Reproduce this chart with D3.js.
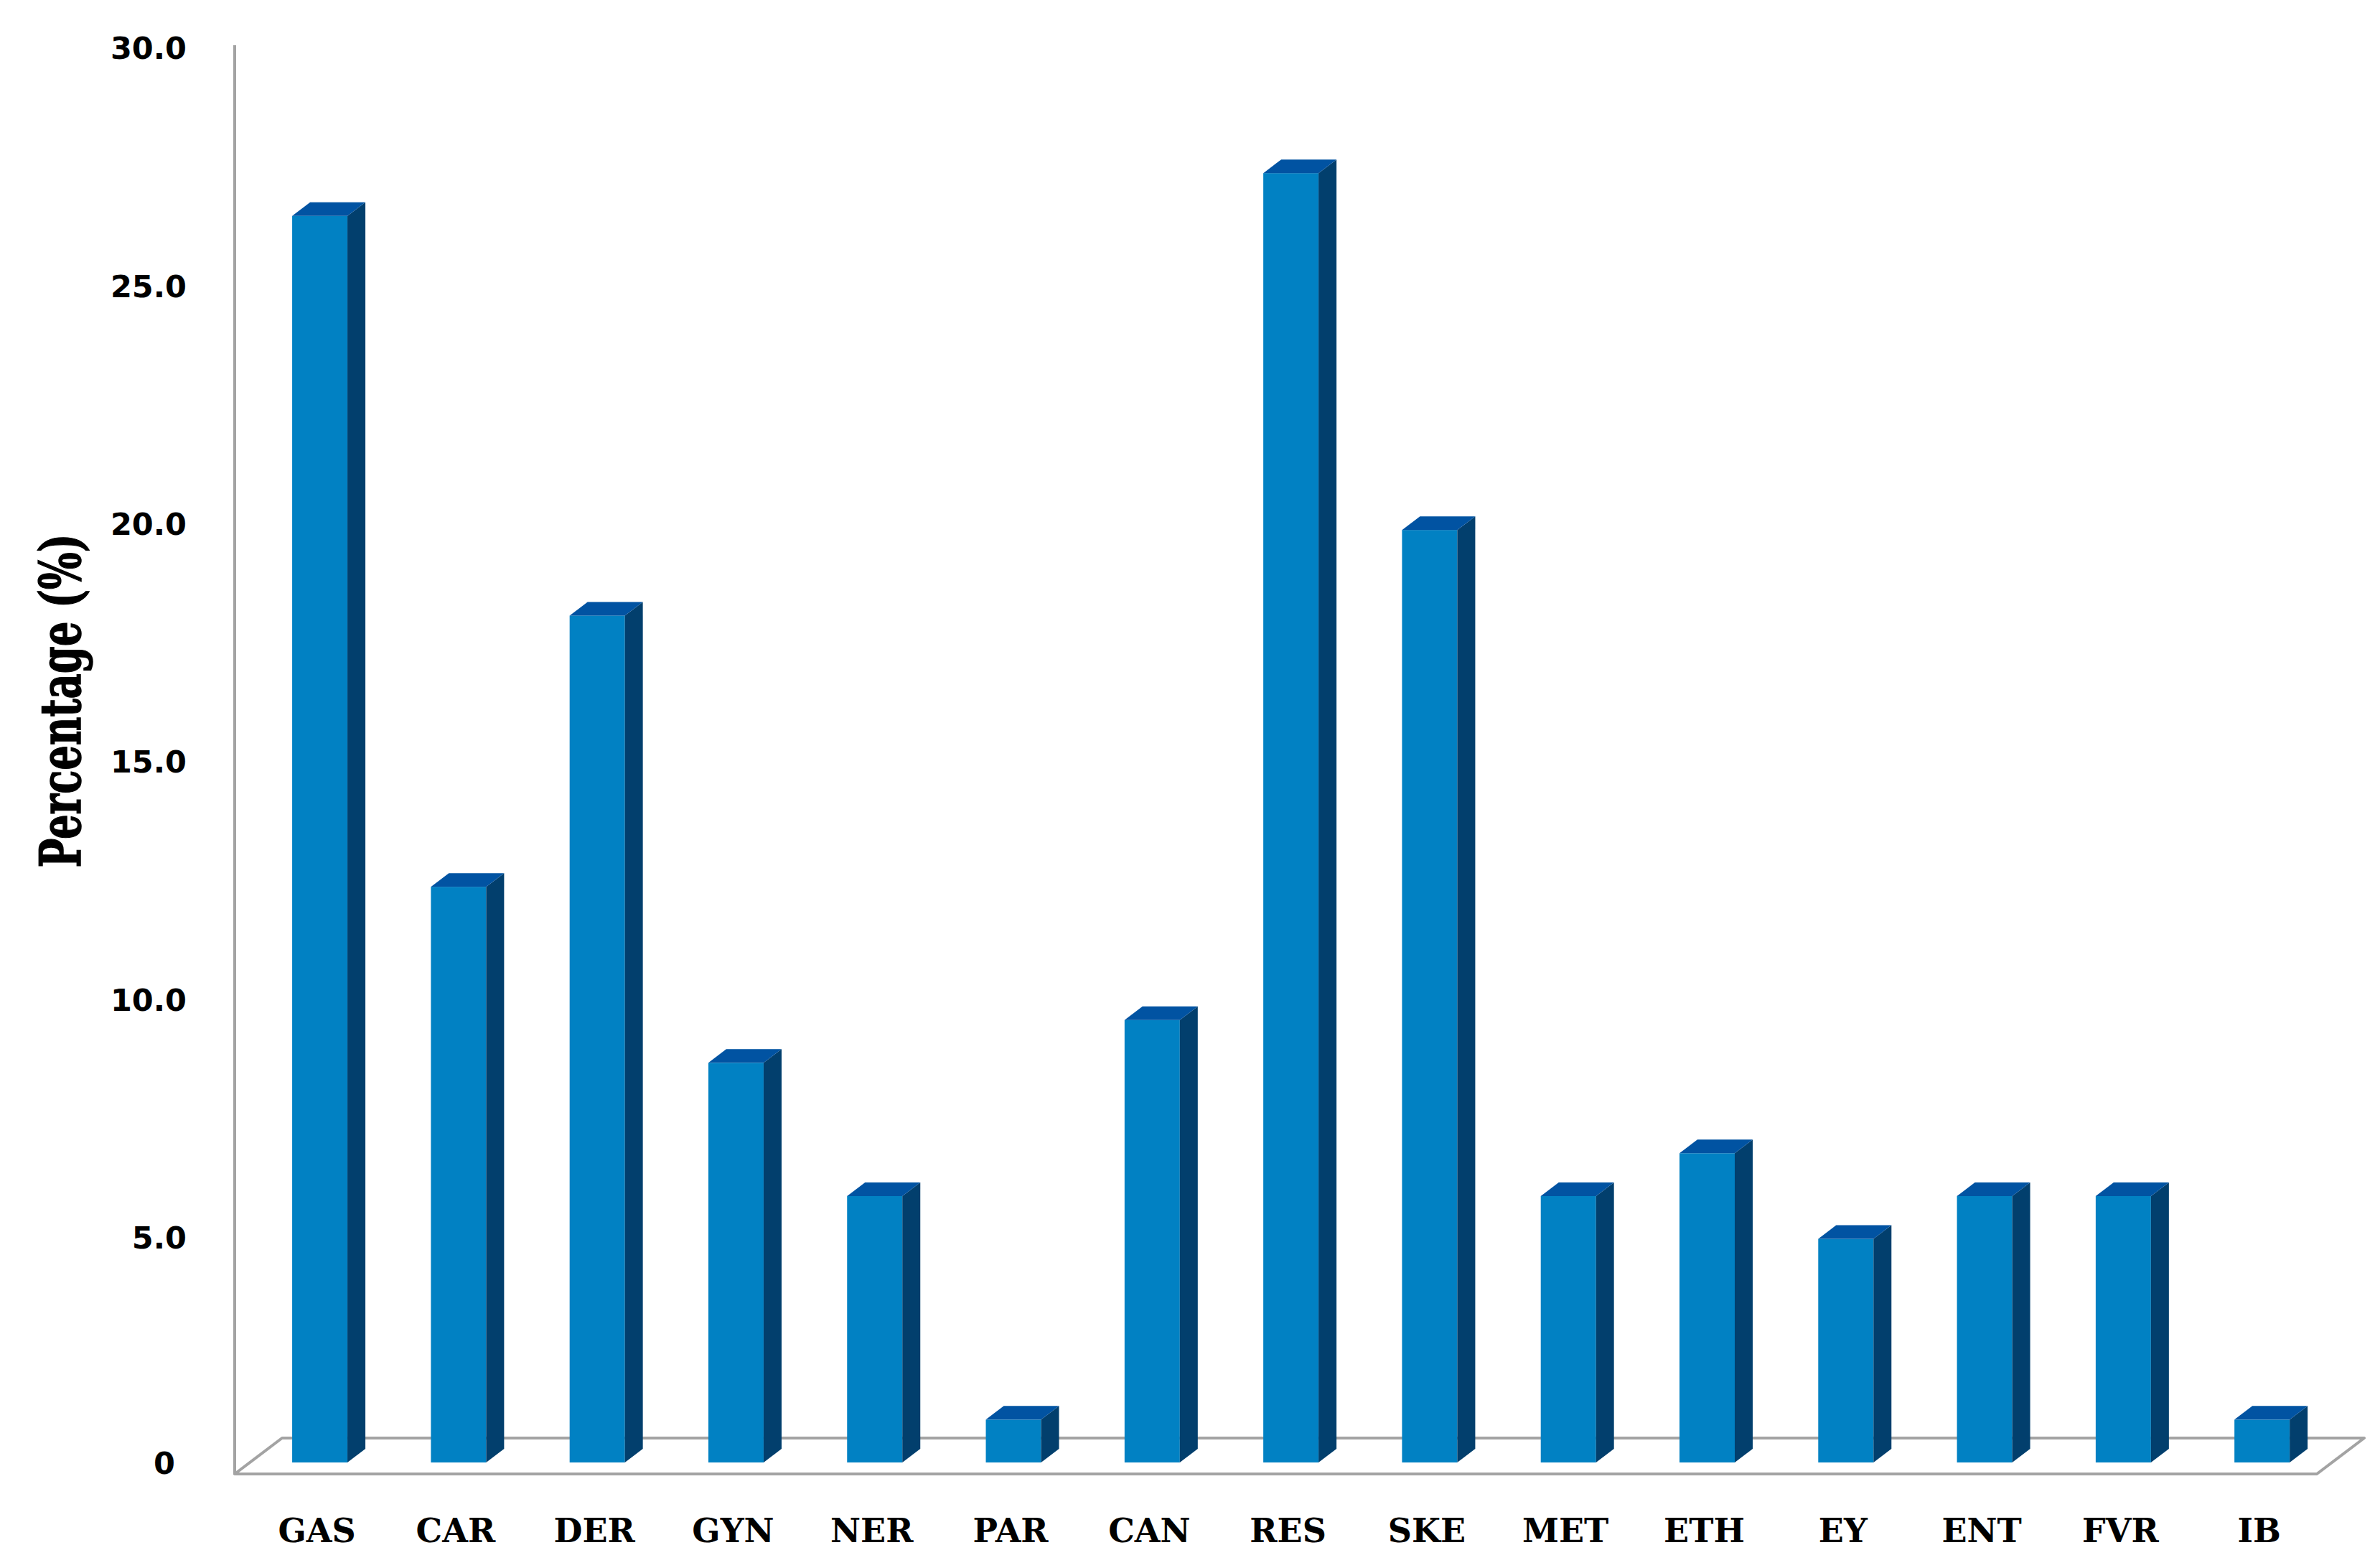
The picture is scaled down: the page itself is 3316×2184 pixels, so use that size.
<!DOCTYPE html>
<html>
<head>
<meta charset="utf-8">
<script src="https://cdn.jsdelivr.net/npm/d3@7"></script>
<style>
  html, body { margin: 0; padding: 0; background: #ffffff; }
  svg { display: block; }
</style>
</head>
<body>
<div id="chart"></div>
<script>
// ---- data ----
const categories = ["GAS", "CAR", "DER", "GYN", "NER", "PAR", "CAN", "RES", "SKE", "MET", "ETH", "EY", "ENT", "FVR", "IB"];
const percentages = [26.2, 12.1, 17.8, 8.4, 5.6, 0.9, 9.3, 27.1, 19.6, 5.6, 6.5, 4.7, 5.6, 5.6, 0.9];
const yTicks = [0, 5, 10, 15, 20, 25, 30];
const yTickLabels = ["0", "5.0", "10.0", "15.0", "20.0", "25.0", "30.0"];
const yTitle = "Percentage (%)";

// ---- layout ----
const W = 3316, H = 2184;
const floorFrontY = 2053, floorLeft = 327, floorRight = 3228;
const depthX = 66, depthY = 50;          // floor depth (oblique)
const barPlane = 0.32;                   // depth fraction of bar front plane
const barDepthX = 25, barDepthY = 19;    // bar depth
const colors = { front: "#0181C3", side: "#023F6D", top: "#0153A2", axis: "#A3A3A3" };

const svg = d3.select("#chart").append("svg")
  .attr("width", W).attr("height", H)
  .attr("viewBox", `0 0 ${W} ${H}`);

// value scale (front plane of floor)
const y = d3.scaleLinear().domain([0, 30]).range([2055, 67]);
// bars sit at a plane further back
const barOffX = depthX * barPlane, barOffY = depthY * barPlane;
const barBase = floorFrontY - barOffY;
const yBar = y.copy().range([barBase, barBase - (y(0) - y(30))]);

const x = d3.scaleBand()
  .domain(categories)
  .range([floorLeft + barOffX, floorRight + barOffX])
  .paddingInner(0.6017)
  .paddingOuter(0.305);

// ---- floor ----
const floorPts = [
  [floorLeft, floorFrontY],
  [floorRight, floorFrontY],
  [floorRight + depthX, floorFrontY - depthY],
  [floorLeft + depthX, floorFrontY - depthY]
];
svg.append("polygon")
  .attr("points", floorPts.map(p => p.join(",")).join(" "))
  .attr("fill", "none")
  .attr("stroke", colors.axis)
  .attr("stroke-width", 4)
  .attr("stroke-linejoin", "round");

// ---- value axis line ----
svg.append("line")
  .attr("x1", floorLeft).attr("x2", floorLeft)
  .attr("y1", y(30) - 4).attr("y2", floorFrontY)
  .attr("stroke", colors.axis)
  .attr("stroke-width", 4);

// ---- tick labels ----
svg.append("g").selectAll("text")
  .data(yTicks)
  .join("text")
  .attr("x", 260)
  .attr("y", d => y(d))
  .attr("dx", d => d === 0 ? -16 : 0)
  .attr("dy", d => d === 0 ? "-0.05em" : "0.36em")
  .attr("text-anchor", "end")
  .attr("font-family", "'DejaVu Sans', sans-serif")
  .attr("font-weight", "bold")
  .attr("font-size", 43)
  .attr("fill", "#000")
  .text((d, i) => yTickLabels[i]);

// ---- y title ----
svg.append("text")
  .attr("transform", `translate(112, 976) rotate(-90)`)
  .attr("text-anchor", "middle")
  .attr("font-family", "'DejaVu Serif', serif")
  .attr("font-weight", "bold")
  .attr("font-size", 78)
  .attr("textLength", 465)
  .attr("lengthAdjust", "spacingAndGlyphs")
  .attr("fill", "#000")
  .attr("stroke", "#000")
  .attr("stroke-width", 1.5)
  .text(yTitle);

// ---- bars ----
const bars = svg.append("g").selectAll("g")
  .data(categories.map((c, i) => ({ c, v: percentages[i] })))
  .join("g");

bars.append("rect")
  .attr("x", d => x(d.c))
  .attr("y", d => yBar(d.v))
  .attr("width", x.bandwidth())
  .attr("height", d => yBar(0) - yBar(d.v))
  .attr("fill", colors.front);

bars.append("polygon")
  .attr("points", d => {
    const xr = x(d.c) + x.bandwidth(), yt = yBar(d.v), yb = yBar(0);
    return [[xr, yt], [xr + barDepthX, yt - barDepthY], [xr + barDepthX, yb - barDepthY], [xr, yb]]
      .map(p => p.join(",")).join(" ");
  })
  .attr("fill", colors.side);

bars.append("polygon")
  .attr("points", d => {
    const xl = x(d.c), xr = xl + x.bandwidth(), yt = yBar(d.v);
    return [[xl, yt], [xl + barDepthX, yt - barDepthY], [xr + barDepthX, yt - barDepthY], [xr, yt]]
      .map(p => p.join(",")).join(" ");
  })
  .attr("fill", colors.top);

// ---- category labels ----
svg.append("g").selectAll("text")
  .data(categories)
  .join("text")
  .attr("x", d => x(d) + x.bandwidth() / 2 - 4)
  .attr("y", 2148)
  .attr("text-anchor", "middle")
  .attr("font-family", "'DejaVu Serif', serif")
  .attr("font-weight", "bold")
  .attr("font-size", 46)
  .attr("fill", "#000")
  .text(d => d);
</script>
</body>
</html>
